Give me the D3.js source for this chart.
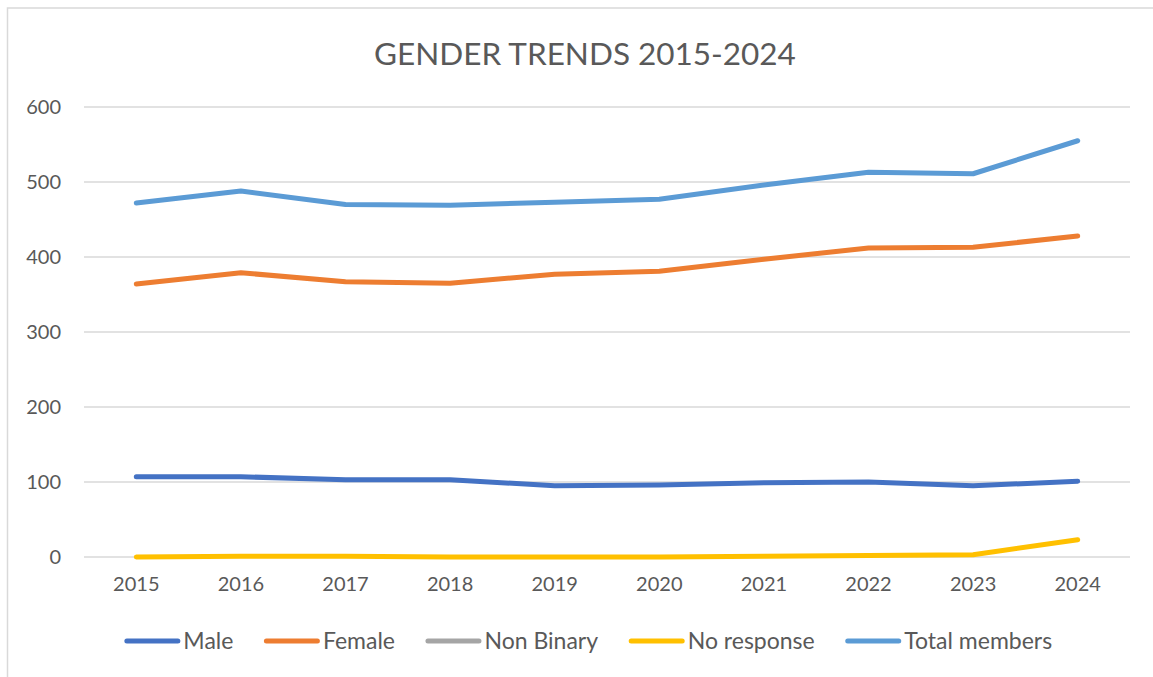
<!DOCTYPE html>
<html>
<head>
<meta charset="utf-8">
<script src="https://cdn.jsdelivr.net/npm/d3@7"></script>
<style>
  body { margin: 0; background: #fff; }
  svg { display: block; font-family: Lato, "Open Sans", sans-serif; }
</style>
</head>
<body>
<div id="chart"></div>
<script>
var years = ["2015", "2016", "2017", "2018", "2019", "2020", "2021", "2022", "2023", "2024"];
var yTicks = [0, 100, 200, 300, 400, 500, 600];

var male = [107, 107, 103, 103, 95, 96, 99, 100, 95, 101];
var female = [364, 379, 367, 365, 377, 381, 397, 412, 413, 428];
// no visible line for this series in the picture
var nonBinary = [null, null, null, null, null, null, null, null, null, null];
var noResponse = [0, 1, 1, 0, 0, 0, 1, 2, 3, 23];
var totalMembers = [472, 488, 470, 469, 473, 477, 496, 513, 511, 555];

var seriesNames = ["Male", "Female", "Non Binary", "No response", "Total members"];
var seriesColors = ["#4472C4", "#ED7D31", "#A5A5A5", "#FFC000", "#5B9BD5"];

var series = [male, female, nonBinary, noResponse, totalMembers].map(function(vals, i) {
    return { name: seriesNames[i], color: seriesColors[i], values: vals };
});

var width = 1153, height = 677;
var textColor = "#595959";

var svg = d3.select("#chart").append("svg")
    .attr("width", width)
    .attr("height", height);

// chart border (runs off right and bottom edge)
svg.append("rect")
    .attr("x", 7.5).attr("y", 8)
    .attr("width", 1200).attr("height", 700)
    .attr("fill", "#fff")
    .attr("stroke", "#d9d9d9")
    .attr("stroke-width", 1.5);

svg.append("text")
    .attr("x", 585).attr("y", 65)
    .attr("text-anchor", "middle")
    .attr("fill", textColor)
    .style("font-size", "31.5px")
    .text("GENDER TRENDS 2015-2024");

var x = d3.scaleBand().domain(years).range([84, 1130]);
var y = d3.scaleLinear().domain([0, 600]).range([557, 107]);

// gridlines
svg.append("g")
    .selectAll("line")
    .data(yTicks)
    .enter().append("line")
    .attr("x1", 84).attr("x2", 1130)
    .attr("y1", function(d) { return y(d); })
    .attr("y2", function(d) { return y(d); })
    .attr("stroke", "#d9d9d9")
    .attr("stroke-width", 1.5);

// y axis labels
var yAxis = d3.axisLeft(y).tickValues(yTicks).tickSize(0).tickPadding(0);
var gy = svg.append("g").attr("transform", "translate(61,0)").call(yAxis);
gy.select(".domain").remove();
gy.selectAll("text").attr("fill", textColor).style("font-size", "20px")
    .style("font-family", "Lato, 'Open Sans', sans-serif");

// x axis labels
var xAxis = d3.axisBottom(x).tickSize(0).tickPadding(0);
var gx = svg.append("g").attr("transform", "translate(0,577)").call(xAxis);
gx.select(".domain").remove();
gx.selectAll("text").attr("fill", textColor).style("font-size", "20px")
    .style("font-family", "Lato, 'Open Sans', sans-serif");

// lines
var line = d3.line()
    .defined(function(d) { return d !== null; })
    .x(function(d, i) { return x(years[i]) + x.bandwidth() / 2; })
    .y(function(d) { return y(d); });

svg.append("g")
    .selectAll("path")
    .data(series)
    .enter().append("path")
    .attr("d", function(s) { return line(s.values); })
    .attr("fill", "none")
    .attr("stroke", function(s) { return s.color; })
    .attr("stroke-width", 5)
    .attr("stroke-linecap", "round")
    .attr("stroke-linejoin", "round");

// legend
var legend = svg.append("g");
var items = legend.selectAll("g")
    .data(series)
    .enter().append("g");
items.append("line")
    .attr("x1", 2.5).attr("x2", 53.5)
    .attr("y1", 0).attr("y2", 0)
    .attr("stroke", function(s) { return s.color; })
    .attr("stroke-width", 5)
    .attr("stroke-linecap", "round");
items.append("text")
    .attr("x", 59).attr("y", 8)
    .attr("fill", textColor)
    .style("font-size", "23px")
    .text(function(s) { return s.name; });

var pos = 0;
items.each(function() {
    var w = this.getBBox().width;
    d3.select(this).attr("transform", "translate(" + pos + ",0)");
    pos += w + 33;
});
var legendWidth = pos - 33;
legend.attr("transform", "translate(" + (587 - legendWidth / 2) + ",641)");
</script>
</body>
</html>
